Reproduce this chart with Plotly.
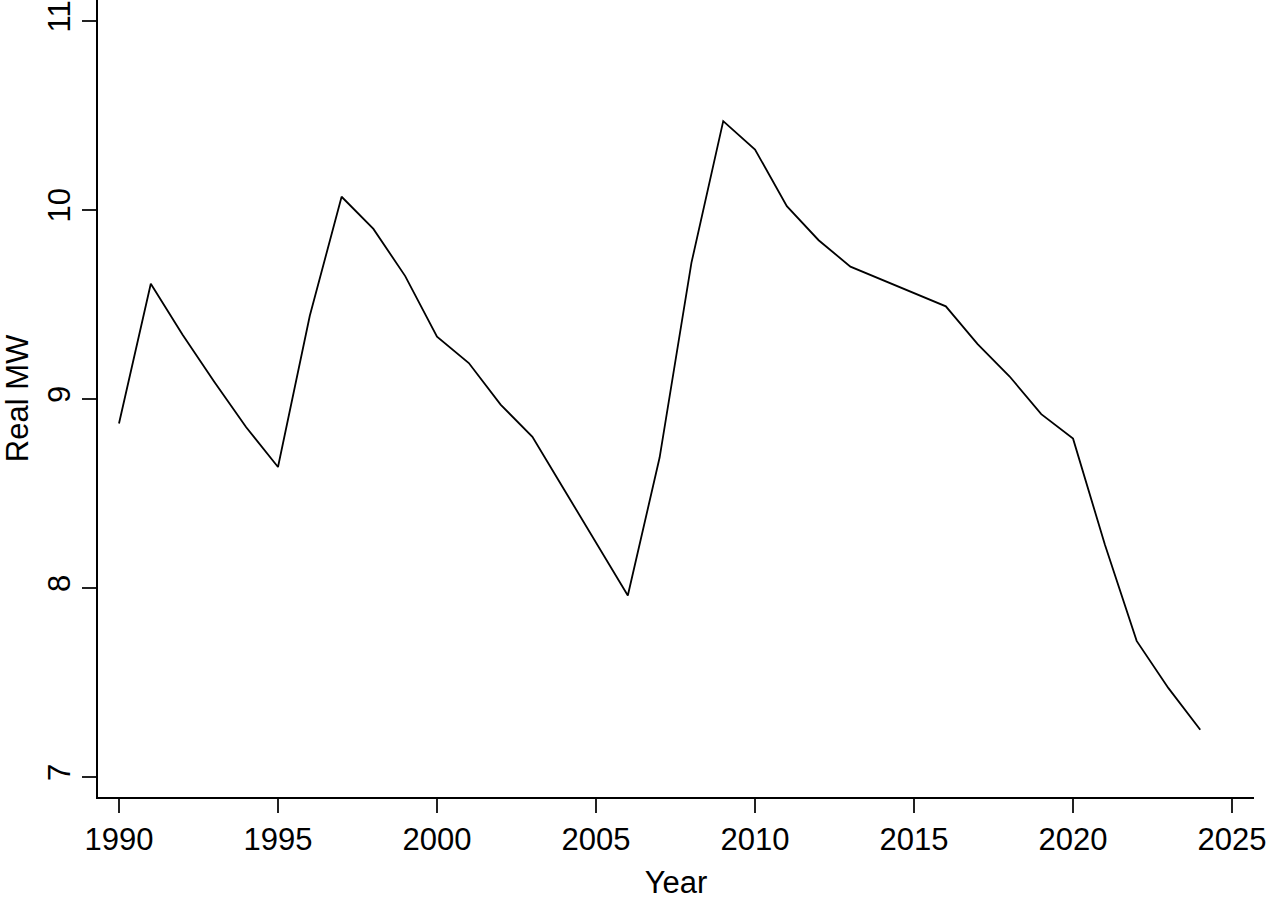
import plotly.graph_objects as go

years = list(range(1990, 2025))
real_mw = [8.87, 9.61, 9.34, 9.09, 8.85, 8.64, 9.44, 10.07, 9.90, 9.65,
           9.33, 9.19, 8.97, 8.80, 8.52, 8.24, 7.96, 8.69, 9.72, 10.47,
           10.32, 10.02, 9.84, 9.70, 9.63, 9.56, 9.49, 9.29, 9.12, 8.92,
           8.79, 8.23, 7.72, 7.47, 7.25]
x_ticks = [1990, 1995, 2000, 2005, 2010, 2015, 2020, 2025]
y_ticks = [7, 8, 9, 10, 11]

font = "Liberation Sans, Arial, Helvetica, sans-serif"

fig = go.Figure(go.Scatter(x=years, y=real_mw, mode="lines",
                           line=dict(color="black", width=1.8),
                           hoverinfo="skip"))

fig.update_layout(
    width=1271, height=901,
    margin=dict(l=98, r=17, t=0, b=104),
    paper_bgcolor="white", plot_bgcolor="white",
    showlegend=False,
    font=dict(family=font, size=31, color="black"),
)
fig.update_xaxes(
    range=[1989.34, 2025.69], tickvals=x_ticks, ticktext=[str(v) for v in x_ticks],
    showgrid=False, zeroline=False, showline=True, linecolor="black", linewidth=2,
    ticks="outside", ticklen=14, tickwidth=1.5, tickcolor="#222",
    title=dict(text="Year", font=dict(size=31), standoff=15),
)
fig.update_yaxes(
    range=[6.894, 11.111], tickvals=y_ticks, ticktext=[str(v) for v in y_ticks],
    tickangle=-90,
    showgrid=False, zeroline=False, showline=True, linecolor="black", linewidth=2,
    ticks="outside", ticklen=14, tickwidth=1.5, tickcolor="#222",
    title=dict(text="Real MW", font=dict(size=31), standoff=10),
)

fig.write_html("out.html")
